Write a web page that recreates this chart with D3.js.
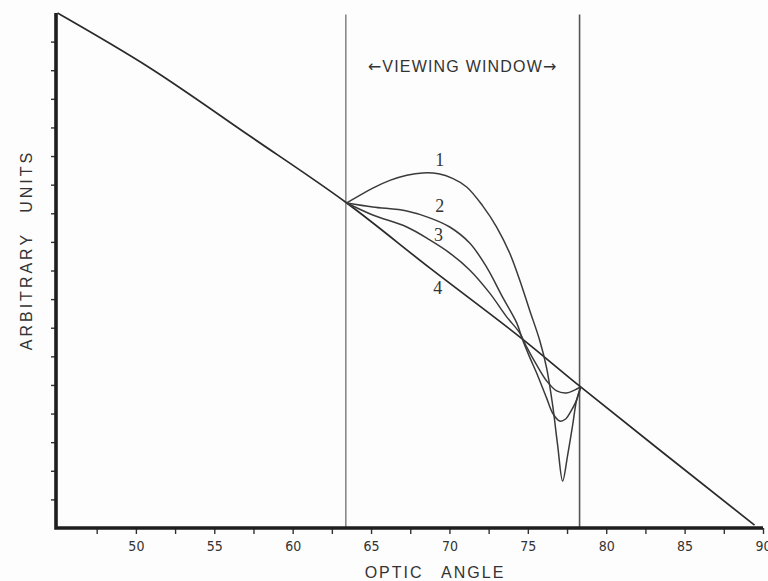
<!DOCTYPE html>
<html>
<head>
<meta charset="utf-8">
<script src="https://cdn.jsdelivr.net/npm/d3@7"></script>
<style>
  body { margin: 0; background: #fdfdfd; }
  svg { display: block; }
</style>
</head>
<body>
<div id="chart"></div>
<script>
// axis ticks
const xTicks = d3.range(47.5, 90.01, 2.5);
const xLabelValues = [50, 55, 60, 65, 70, 75, 80, 85, 90];
const yTicks = d3.range(1, 18);
const windowEdges = [63.39, 78.3];

// curve 4: the straight baseline
const baseX = [45, 50.9, 57.27, 63.45, 68.74, 74.48, 78.37, 89.46];
const baseY = [18.0, 16.08, 13.7, 11.36, 9.09, 6.68, 4.93, 0.1];

const curve1X = [63.45, 65.11, 66.2, 67.28, 68.3, 69.3, 70.2, 71.1, 72.12, 73.01, 73.84, 74.48, 75.11, 75.75, 76.2, 76.58, 76.9, 77.22, 77.54, 77.86, 78.11, 78.37];
const curve1Y = [11.36, 11.88, 12.15, 12.33, 12.41, 12.38, 12.22, 11.92, 11.26, 10.52, 9.61, 8.67, 7.62, 6.57, 5.59, 4.3, 2.9, 1.64, 2.55, 3.6, 4.47, 4.93];

const curve2X = [63.45, 65.11, 67.28, 68.74, 70.02, 71.29, 72.37, 73.39, 74.29, 74.67, 75.11, 75.56, 76.2, 76.58, 77.03, 77.41, 77.79, 78.11, 78.37];
const curve2Y = [11.36, 11.22, 11.08, 10.84, 10.52, 9.96, 9.12, 8.07, 7.17, 6.57, 5.98, 5.42, 4.54, 4.02, 3.74, 3.81, 4.12, 4.47, 4.93];

const curve3X = [63.45, 65.11, 67.28, 68.74, 70.02, 71.29, 72.57, 73.65, 74.48, 74.92, 75.56, 76.2, 76.84, 77.47, 77.98, 78.37];
const curve3Y = [11.36, 10.94, 10.52, 10.07, 9.61, 9.02, 8.21, 7.38, 6.82, 6.33, 5.7, 5.14, 4.79, 4.72, 4.82, 4.93];

const curveNames = ["1", "2", "3", "4"];
const curveLabelX = [69.38, 69.38, 69.3, 69.25];
const curveLabelY = [12.86, 11.25, 10.24, 8.39];

const width = 768;
const height = 581;

const series = [
  { xs: baseX, ys: baseY, color: "#2a2a2a", w: 1.7 },
  { xs: curve1X, ys: curve1Y, color: "#3a3a3a", w: 1.5 },
  { xs: curve2X, ys: curve2Y, color: "#3a3a3a", w: 1.5 },
  { xs: curve3X, ys: curve3Y, color: "#3a3a3a", w: 1.5 },
];

const svg = d3.select("#chart")
  .append("svg")
  .attr("width", width)
  .attr("height", height);

svg.append("rect").attr("width", width).attr("height", height).attr("fill", "#fdfdfd");

const x = d3.scaleLinear().domain([45, 90]).range([57.5, 763]);
const y = d3.scaleLinear().domain([0, 18]).range([528, 13]);

// viewing window edges
svg.append("g")
  .selectAll("line")
  .data(windowEdges)
  .join("line")
  .attr("x1", (d) => x(d))
  .attr("x2", (d) => x(d))
  .attr("y1", y(17.95))
  .attr("y2", y(0))
  .attr("stroke", (d, i) => (i === 0 ? "#8a8a8a" : "#555"))
  .attr("stroke-width", 1.6);

// curves
const line = d3.line()
  .x((d) => x(d[0]))
  .y((d) => y(d[1]))
  .curve(d3.curveCatmullRom.alpha(0.5));

svg.append("g")
  .selectAll("path")
  .data(series)
  .join("path")
  .attr("d", (s) => line(d3.zip(s.xs, s.ys)))
  .attr("fill", "none")
  .attr("stroke", (s) => s.color)
  .attr("stroke-width", (s) => s.w)
  .attr("stroke-linejoin", "round");

// curve numbers
svg.append("g")
  .selectAll("text")
  .data(curveNames)
  .join("text")
  .attr("x", (d, i) => x(curveLabelX[i]))
  .attr("y", (d, i) => y(curveLabelY[i]))
  .attr("dy", "0.35em")
  .attr("text-anchor", "middle")
  .attr("font-family", "'Liberation Serif', 'DejaVu Serif', serif")
  .attr("font-size", 18)
  .attr("fill", "#333")
  .text((d) => d);

// x axis
const xAxis = svg.append("g")
  .attr("transform", `translate(0,${y(0)})`)
  .call(
    d3.axisBottom(x)
      .tickValues(xTicks)
      .tickSize(6)
      .tickPadding(7)
      .tickFormat((d) => (xLabelValues.includes(d) ? d : ""))
  );
xAxis.select(".domain").remove();
xAxis.selectAll(".tick line").attr("stroke", "#333").attr("stroke-width", 1.4);
xAxis.selectAll(".tick text")
  .attr("font-family", "'Liberation Sans Narrow', 'DejaVu Sans Condensed', sans-serif")
  .attr("font-size", 14)
  .attr("fill", "#333");

// y axis
const yAxis = svg.append("g")
  .attr("transform", `translate(${x(45) - 1.5},0)`)
  .call(d3.axisLeft(y).tickValues(yTicks).tickSize(5).tickFormat(""));
yAxis.select(".domain").remove();
yAxis.selectAll(".tick line").attr("stroke", "#333").attr("stroke-width", 1.4);

// heavy axis frame
svg.append("path")
  .attr("d", `M${x(45) - 1.5},${y(18)}V${y(0)}H${x(90)}`)
  .attr("fill", "none")
  .attr("stroke", "#1e1e1e")
  .attr("stroke-width", 3.6);

// titles
svg.append("text")
  .attr("x", 435)
  .attr("y", 578)
  .attr("text-anchor", "middle")
  .attr("font-family", "'Liberation Sans', Arial, sans-serif")
  .attr("font-size", 16)
  .attr("letter-spacing", 2)
  .attr("word-spacing", 12)
  .attr("fill", "#333")
  .text("OPTIC ANGLE");

svg.append("text")
  .attr("transform", "translate(32,250) rotate(-90)")
  .attr("text-anchor", "middle")
  .attr("font-family", "'Liberation Sans', Arial, sans-serif")
  .attr("font-size", 16)
  .attr("letter-spacing", 3)
  .attr("word-spacing", 12)
  .attr("fill", "#333")
  .text("ARBITRARY UNITS");

const windowLabel = svg.append("text")
  .attr("x", (x(windowEdges[0]) + x(windowEdges[1])) / 2)
  .attr("y", 72)
  .attr("text-anchor", "middle")
  .attr("font-family", "'Liberation Sans', Arial, sans-serif")
  .attr("font-size", 16)
  .attr("letter-spacing", 1.2)
  .attr("fill", "#333");
windowLabel.append("tspan").attr("font-family", "'DejaVu Sans', sans-serif").text("←");
windowLabel.append("tspan").text("VIEWING WINDOW");
windowLabel.append("tspan").attr("font-family", "'DejaVu Sans', sans-serif").text("→");
</script>
</body>
</html>
